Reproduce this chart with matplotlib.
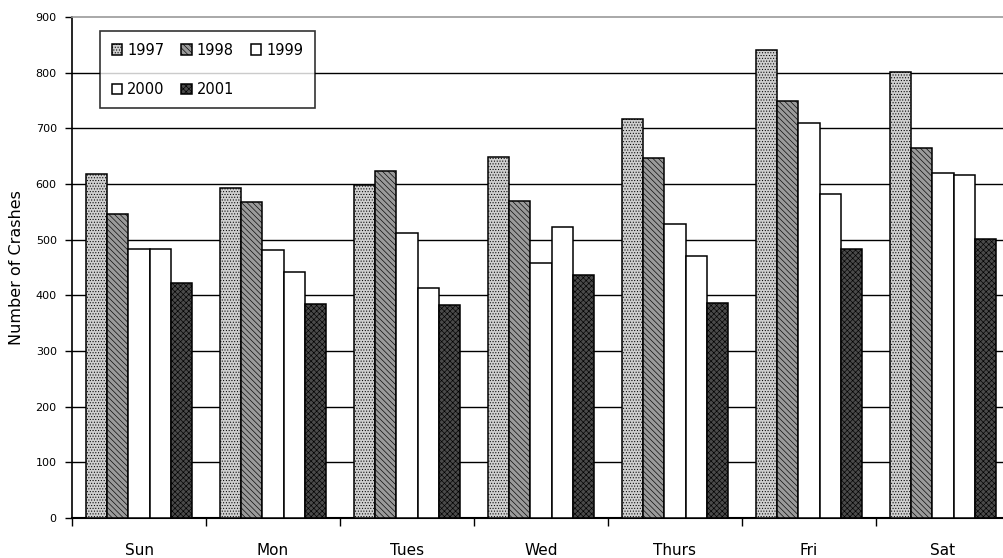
import numpy as np
import matplotlib
matplotlib.use("Agg")
import matplotlib.pyplot as plt

# Crashes by day of week, 1997-2001
days = ["Sun", "Mon", "Tues", "Wed", "Thurs", "Fri", "Sat"]
years = ["1997", "1998", "1999", "2000", "2001"]
crashes_1997 = [618, 592, 598, 648, 716, 840, 802]
crashes_1998 = [546, 567, 623, 570, 646, 749, 665]
crashes_1999 = [483, 481, 512, 458, 528, 710, 619]
crashes_2000 = [483, 442, 413, 523, 470, 582, 617]
crashes_2001 = [423, 385, 383, 436, 386, 484, 501]
y_ticks = [0, 100, 200, 300, 400, 500, 600, 700, 800, 900]

series = [crashes_1997, crashes_1998, crashes_1999, crashes_2000, crashes_2001]
faces = ["#cfcfcf", "#9a9a9a", "#ffffff", "#ffffff", "#4a4a4a"]
hatches = ["......", "\\\\\\\\\\\\", None, None, "xxxxxx"]

plt.rcParams["font.family"] = ["DejaVu Sans"]
plt.rcParams["hatch.linewidth"] = 0.45

fig = plt.figure(figsize=(10.04, 5.58), dpi=100)
ax = fig.add_axes([72 / 1004, 40 / 558, 938 / 1004, 501 / 558])

x = np.arange(len(days))
width = 0.157
handles = []
for i, (vals, fc, h, lab) in enumerate(zip(series, faces, hatches, years)):
    bars = ax.bar(x + (i - 2) * width, vals, width, color=fc, edgecolor="black",
                  linewidth=1.1, hatch=h, label=lab, zorder=3)
    handles.append(bars)

ax.set_xlim(-0.5, len(days) - 0.5)
ax.set_ylim(0, 900)

# horizontal gridlines behind the bars
for v in y_ticks[1:-1]:
    ax.axhline(v, color="black", linewidth=1.0, zorder=1)

ax.set_yticks(y_ticks)
ax.set_yticklabels([str(v) for v in y_ticks], fontsize=8)
ax.tick_params(axis="y", direction="out", length=5, width=1.0, pad=6)

ax.set_xticks(x)
ax.set_xticklabels(days, fontsize=11)
ax.set_xticks(np.arange(len(days) + 1) - 0.5, minor=True)
ax.tick_params(axis="x", which="major", length=0, pad=18)
ax.tick_params(axis="x", which="minor", direction="out", length=6, width=1.0)

ax.set_ylabel("Number of Crashes", fontsize=11.5, labelpad=8)

ax.spines["right"].set_visible(False)
ax.spines["top"].set_color("#9a9a9a")
ax.spines["top"].set_linewidth(1.2)
ax.spines["left"].set_linewidth(1.2)
ax.spines["bottom"].set_linewidth(1.5)

# legend entries laid out row by row: 1997 1998 1999 / 2000 2001
order = [0, 3, 1, 4, 2]
leg = ax.legend([handles[k] for k in order], [years[k] for k in order],
                ncol=3, loc="upper left", bbox_to_anchor=(0.0299, 0.972),
                borderaxespad=0, fontsize=10.5, frameon=True, fancybox=False,
                handlelength=0.7, handleheight=0.7, handletextpad=0.35,
                columnspacing=1.15, labelspacing=1.65, borderpad=0.8)
leg.get_frame().set_edgecolor("black")
leg.get_frame().set_linewidth(1.2)
leg.set_zorder(5)

fig.savefig("out.png", dpi=100)
